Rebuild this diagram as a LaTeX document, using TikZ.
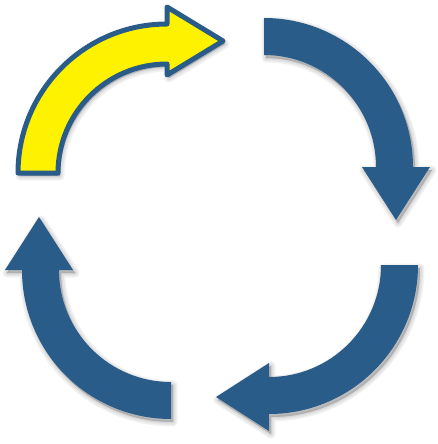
\documentclass[tikz,border=0pt]{standalone}
\definecolor{arrowblue}{RGB}{42,92,138}
\tikzset{
  bluearrow/.style={fill=arrowblue},
  yellowarrow/.style={fill=yellow, draw=arrowblue, line width=5pt, line join=round},
  shadowlayer/.style={fill=black, draw=black, opacity=0.05, line join=round}
}
\newcommand\arrowshape{(0,149) arc[start angle=90,end angle=0,radius=149] -- (166,0) -- (132,-53) -- (98,0) -- (112,0) arc[start angle=0,end angle=90,radius=112] -- cycle}
\newcommand\yellowshape{(0,149) arc[start angle=90,end angle=0,radius=149] -- (166,0) -- (132,-56) -- (98,0) -- (109,0) arc[start angle=0,end angle=90,radius=109] -- cycle}
\newcommand\shadowedarrow[5]{%
  \foreach \w in {9,6,3,0.5}{%
    \begin{scope}[shift={(#1+2,-#2-3)},rotate=#3]
      \path[shadowlayer,line width=\w pt] #5;
    \end{scope}}
  \begin{scope}[shift={(#1,-#2)},rotate=#3]
    \path[#4] #5;
  \end{scope}}
\begin{document}
\begin{tikzpicture}[x=1pt,y=1pt]
  \useasboundingbox (0,0) rectangle (438,-444);
  \shadowedarrow{264}{167}{0}{bluearrow}{\arrowshape}
  \shadowedarrow{269}{265}{-90}{bluearrow}{\arrowshape}
  \shadowedarrow{171}{270}{180}{bluearrow}{\arrowshape}
  \shadowedarrow{167}{173}{90}{yellowarrow}{\yellowshape}
\end{tikzpicture}
\end{document}
